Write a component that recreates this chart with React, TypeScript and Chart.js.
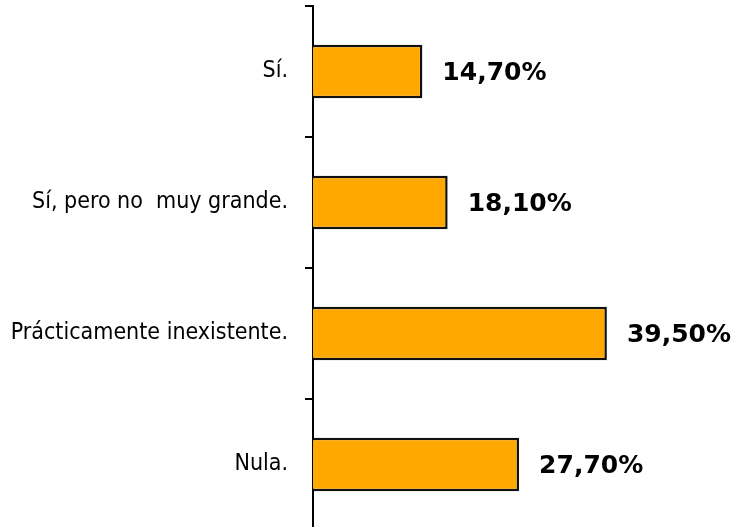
import React, { useEffect, useRef } from "react";
import { Chart, registerables } from "chart.js";

Chart.register(...registerables);

const categories = ["Sí.", "Sí, pero no  muy grande.", "Prácticamente inexistente.", "Nula."];
const values = [14.7, 18.1, 39.5, 27.7];
const valueLabels = ["14,70%", "18,10%", "39,50%", "27,70%"];

const valueLabelPlugin = {
  id: "valueLabels",
  afterDatasetsDraw(chart: any) {
    const ctx = chart.ctx;
    const meta = chart.getDatasetMeta(0);
    ctx.save();
    ctx.font = "bold 25px 'DejaVu Sans'";
    ctx.fillStyle = "#000";
    ctx.textAlign = "left";
    ctx.textBaseline = "middle";
    meta.data.forEach((bar: any, i: number) => {
      ctx.fillText(valueLabels[i], bar.x + 20, bar.y + 2);
    });
    ctx.restore();
  },
};

export default function App() {
  const ref = useRef<HTMLCanvasElement | null>(null);
  useEffect(() => {
    if (!ref.current) return;
    const chart = new Chart(ref.current, {
      type: "bar",
      data: {
        labels: categories,
        datasets: [
          {
            data: values,
            backgroundColor: "#FFA800",
            borderColor: "#111",
            borderWidth: 2.5,
            categoryPercentage: 1,
            barPercentage: 0.41,
          },
        ],
      },
      options: {
        indexAxis: "y",
        animation: false,
        responsive: false,
        maintainAspectRatio: false,
        layout: { padding: { top: 6, right: 51, bottom: 10, left: 0 } },
        plugins: { legend: { display: false }, tooltip: { enabled: false } },
        scales: {
          x: { display: false, min: 0, max: 50 },
          y: {
            afterFit: (scale: any) => {
              scale.width = 313;
              scale.paddingTop = 0;
              scale.paddingBottom = 0;
            },
            border: { display: true, color: "#000", width: 2 },
            grid: {
              display: true,
              drawOnChartArea: false,
              drawTicks: true,
              tickLength: 8,
              color: "#000",
              lineWidth: 2,
              offset: true,
            },
            ticks: {
              padding: 17,
              color: "#000",
              font: { family: "'DejaVu Sans Condensed', 'DejaVu Sans'", size: 23 },
            },
          },
        },
      },
      plugins: [valueLabelPlugin],
    });
    return () => chart.destroy();
  }, []);
  return (
    <div style={{ position: "absolute", left: 0, top: 0, width: 736, height: 527, overflow: "hidden", background: "#fff" }}>
      <canvas ref={ref} width={736} height={540} style={{ display: "block", width: 736, height: 540 }} />
    </div>
  );
}
